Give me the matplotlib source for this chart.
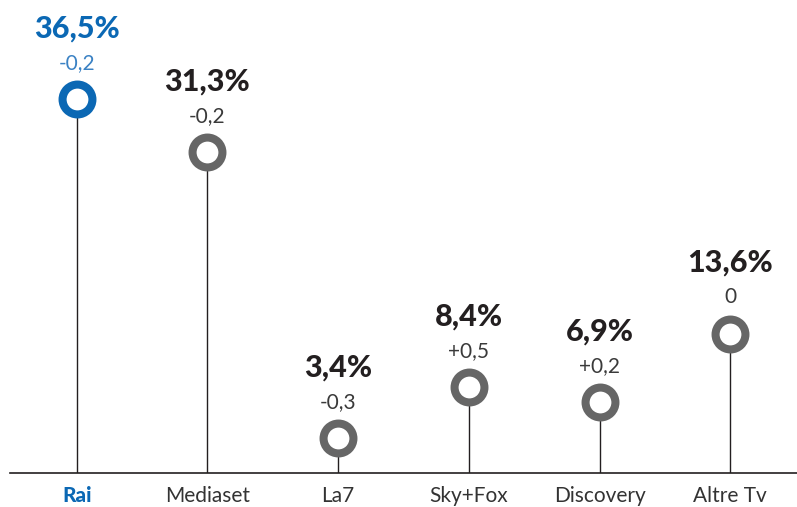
import matplotlib
matplotlib.use("Agg")
import matplotlib.pyplot as plt

# dati
categorie = ["Rai", "Mediaset", "La7", "Sky+Fox", "Discovery", "Altre Tv"]
quote = [36.5, 31.3, 3.4, 8.4, 6.9, 13.6]
quote_lbl = ["36,5%", "31,3%", "3,4%", "8,4%", "6,9%", "13,6%"]
delta_lbl = ["-0,2", "-0,2", "-0,3", "+0,5", "+0,2", "0"]

BLU = "#0b68b4"
GRIGIO = "#666666"
NERO = "#231f20"

plt.rcParams["font.family"] = ["Lato", "DejaVu Sans"]

fig = plt.figure(figsize=(7.97, 5.07), dpi=100)
ax = fig.add_axes([10 / 797, 34 / 507, 787 / 797, 473 / 507])

x = list(range(len(categorie)))
for i, (v, ql, dl) in enumerate(zip(quote, quote_lbl, delta_lbl)):
    col = BLU if i == 0 else GRIGIO
    txt = BLU if i == 0 else NERO
    ax.plot([i, i], [0, v], color=NERO, lw=1.0, zorder=1)
    ax.plot(i, v, marker="o", ms=21.5, mew=5.8, mec=col, mfc="white", zorder=3)
    ax.annotate(ql, (i, v), xytext=(0, 51), textcoords="offset points",
                ha="center", va="center", fontsize=22, fontweight="black", color=txt)
    ax.annotate(dl, (i, v), xytext=(0, 26), textcoords="offset points",
                ha="center", va="center", fontsize=15, fontweight="normal",
                color=("#3b82c4" if i == 0 else "#3a3a3a"))

ax.set_xlim(-0.51, 5.51)
ax.set_ylim(0, 473 / 10.25)
ax.set_xticks(x)
ax.set_xticklabels(categorie, fontsize=15, color="#333333", fontweight="normal")
lbl0 = ax.get_xticklabels()[0]
lbl0.set_color(BLU)
lbl0.set_fontweight("black")
ax.tick_params(axis="x", length=0, pad=9)
ax.set_yticks([])
for s in ["top", "right", "left"]:
    ax.spines[s].set_visible(False)
ax.spines["bottom"].set_color(NERO)
ax.spines["bottom"].set_linewidth(1.2)

fig.savefig("out.png", dpi=100)
